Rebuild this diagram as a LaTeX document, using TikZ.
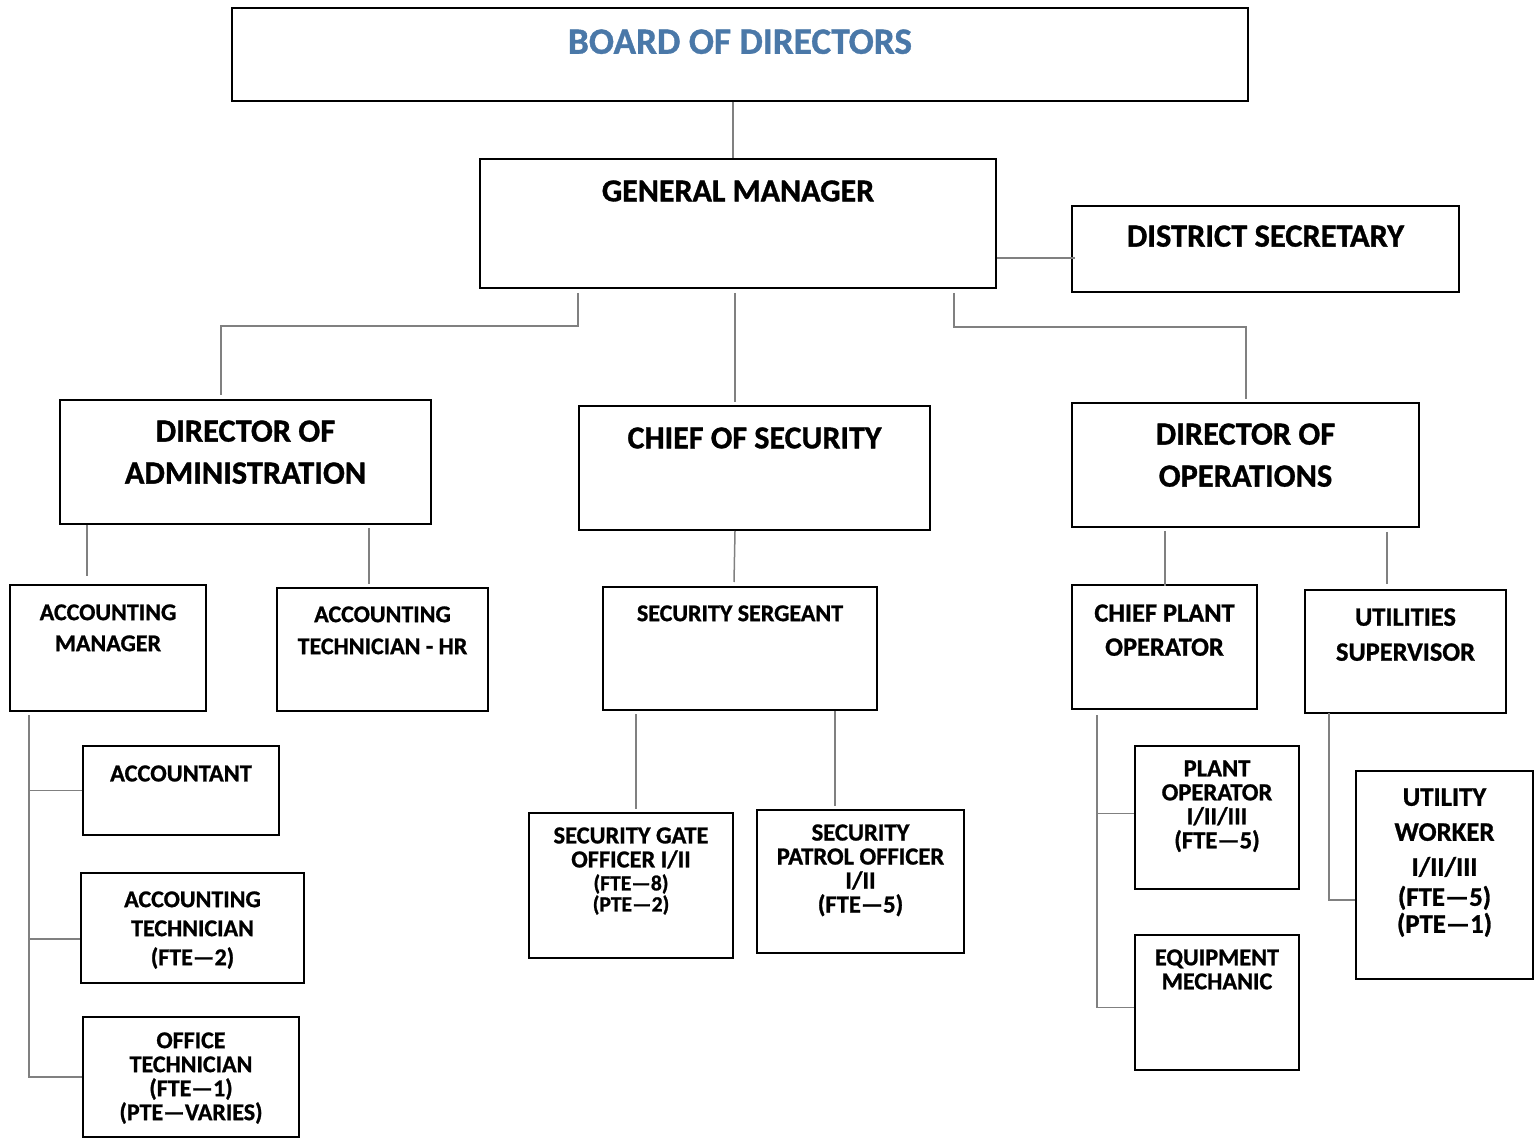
\documentclass[tikz,border=0pt]{standalone}
\usepackage{fontspec}
\setmainfont{Carlito}[BoldFeatures={FakeBold=1}]
\usepackage{xcolor}
\usepackage{tikz}
\definecolor{boardblue}{HTML}{4A78A8}
\tikzset{
	unit/.style={draw=black, line width=1pt, inner sep=0pt},
	caption/.style={align=center, inner sep=0pt, anchor=north},
	link/.style={draw=black!50, line width=0.75pt}
}
\def\fs#1#2{\fontsize{#1}{#2}\selectfont\bfseries}
% name, left, top, right, bottom, text offset, font, text
\newcommand\orgunit[8]{%
	\node[unit, minimum width={(#4-#2)*0.5pt}, minimum height={(#5-#3)*0.5pt}] (#1) at ({(#2+#4)/2},{(#3+#5)/2}) {};%
	\node[caption, font=#7] (#1-text) at ([shift={(0,#6)}]#1.north) {#8};%
}
\begin{document}
\begin{tikzpicture}[x=0.5pt, y=-0.5pt]
	\useasboundingbox (0,0) rectangle (1536,1138);

	% top level
	\orgunit{board}{232}{8}{1248}{101}{22}{\fs{18.6}{22}\color{boardblue}}{BOARD OF DIRECTORS}
	\orgunit{gm}{480}{159}{996}{288}{22}{\fs{16}{18}}{GENERAL MANAGER}
	\orgunit{sec}{1072}{206}{1459}{292}{20}{\fs{16.2}{18}}{DISTRICT SECRETARY}

	% directors
	\orgunit{doa}{60}{400}{431}{524}{21}{\fs{16.2}{21}}{DIRECTOR OF\\ADMINISTRATION}
	\orgunit{cos}{579}{406}{930}{530}{22}{\fs{16}{18}}{CHIEF OF SECURITY}
	\orgunit{doo}{1072}{403}{1419}{527}{21}{\fs{16.2}{21}}{DIRECTOR OF\\OPERATIONS}

	% managers
	\orgunit{am}{10}{585}{206}{711}{20}{\fs{12}{15.5}}{ACCOUNTING\\MANAGER}
	\orgunit{athr}{277}{588}{488}{711}{19}{\fs{12}{16}}{ACCOUNTING\\TECHNICIAN - HR}
	\orgunit{ss}{603}{587}{877}{710}{19}{\fs{12}{14}}{SECURITY SERGEANT}
	\orgunit{cpo}{1072}{585}{1257}{709}{20}{\fs{13.2}{17}}{CHIEF PLANT\\OPERATOR}
	\orgunit{us}{1305}{590}{1506}{713}{19}{\fs{13.2}{17.5}}{UTILITIES\\SUPERVISOR}

	% staff
	\orgunit{acct}{83}{746}{279}{835}{20}{\fs{12.2}{14}}{ACCOUNTANT}
	\orgunit{at}{81}{873}{304}{983}{19}{\fs{12}{14.5}}{ACCOUNTING\\TECHNICIAN\\(FTE—2)}
	\orgunit{ot}{83}{1017}{299}{1137}{16}{\fs{12}{12}}{OFFICE\\TECHNICIAN\\(FTE—1)\\(PTE—VARIES)}
	\orgunit{sgo}{529}{813}{733}{958}{15}{\fs{12.2}{12}}{SECURITY GATE\\OFFICER I/II\\[-0.5pt]{\fontsize{10.8}{10.5}\selectfont (FTE—8)}\\[-1.5pt]{\fontsize{10.8}{10.5}\selectfont (PTE—2)}}
	\orgunit{spo}{757}{810}{964}{953}{15}{\fs{12.3}{12}}{SECURITY\\PATROL OFFICER\\I/II\\(FTE—5)}
	\orgunit{po}{1135}{746}{1299}{889}{15}{\fs{12.3}{12}}{PLANT\\OPERATOR\\I/II/III\\(FTE—5)}
	\orgunit{em}{1135}{935}{1299}{1070}{15}{\fs{12.1}{12}}{EQUIPMENT\\MECHANIC}
	\orgunit{uw}{1356}{771}{1533}{979}{18}{\fs{13.4}{17.5}}{UTILITY\\WORKER\\I/II/III\\[-2.5pt](FTE—5)\\[-4pt](PTE—1)}

	% connectors
	\draw[link] ([shift={(-7,0)}]board.south) -- ([shift={(-5,0)}]gm.north);
	\draw[link] ([shift={(0,-31)}]gm.south east) -- ([shift={(4,-35)}]sec.south west);
	\draw[link] ([shift={(99,4)}]gm.south west) |- ([shift={(162,-73)}]doa.north west) -- ([shift={(162,-4)}]doa.north west);
	\draw[link] ([shift={(-3,4)}]gm.south) -- ([shift={(-19.5,-3)}]cos.north);
	\draw[link] ([shift={(-43,4)}]gm.south east) |- ([shift={(175,-75)}]doo.north west) -- ([shift={(175,-3)}]doo.north west);

	\draw[link] ([shift={(28,0)}]doa.south west) -- ([shift={(78,-8)}]am.north west);
	\draw[link] ([shift={(310,3)}]doa.south west) -- ([shift={(93,-3)}]athr.north west);
	\draw[link] ([shift={(-19.5,0)}]cos.south) -- ([shift={(132,-4)}]ss.north west);
	\draw[link] ([shift={(34,3)}]ss.south west) -- ([shift={(108,-3)}]sgo.north west);
	\draw[link] ([shift={(233,0)}]ss.south west) -- ([shift={(79,-3)}]spo.north west);
	\draw[link] ([shift={(94,3)}]doo.south west) -- ([shift={(94,2)}]cpo.north west);
	\draw[link] ([shift={(316,4)}]doo.south west) -- ([shift={(83,-5)}]us.north west);

	\draw[link] ([shift={(20,3)}]am.south west) |- (ot.west);
	\draw[link] ([shift={(20,3)}]am.south west) |- (acct.west);
	\draw[link] ([shift={(20,3)}]am.south west) |- ([shift={(0,11)}]at.west);
	\draw[link] ([shift={(26,5)}]cpo.south west) |- ([shift={(0,5)}]em.west);
	\draw[link] ([shift={(26,5)}]cpo.south west) |- ([shift={(0,-4)}]po.west);
	\draw[link] ([shift={(25,-1)}]us.south west) |- ([shift={(0,25)}]uw.west);
\end{tikzpicture}
\end{document}
